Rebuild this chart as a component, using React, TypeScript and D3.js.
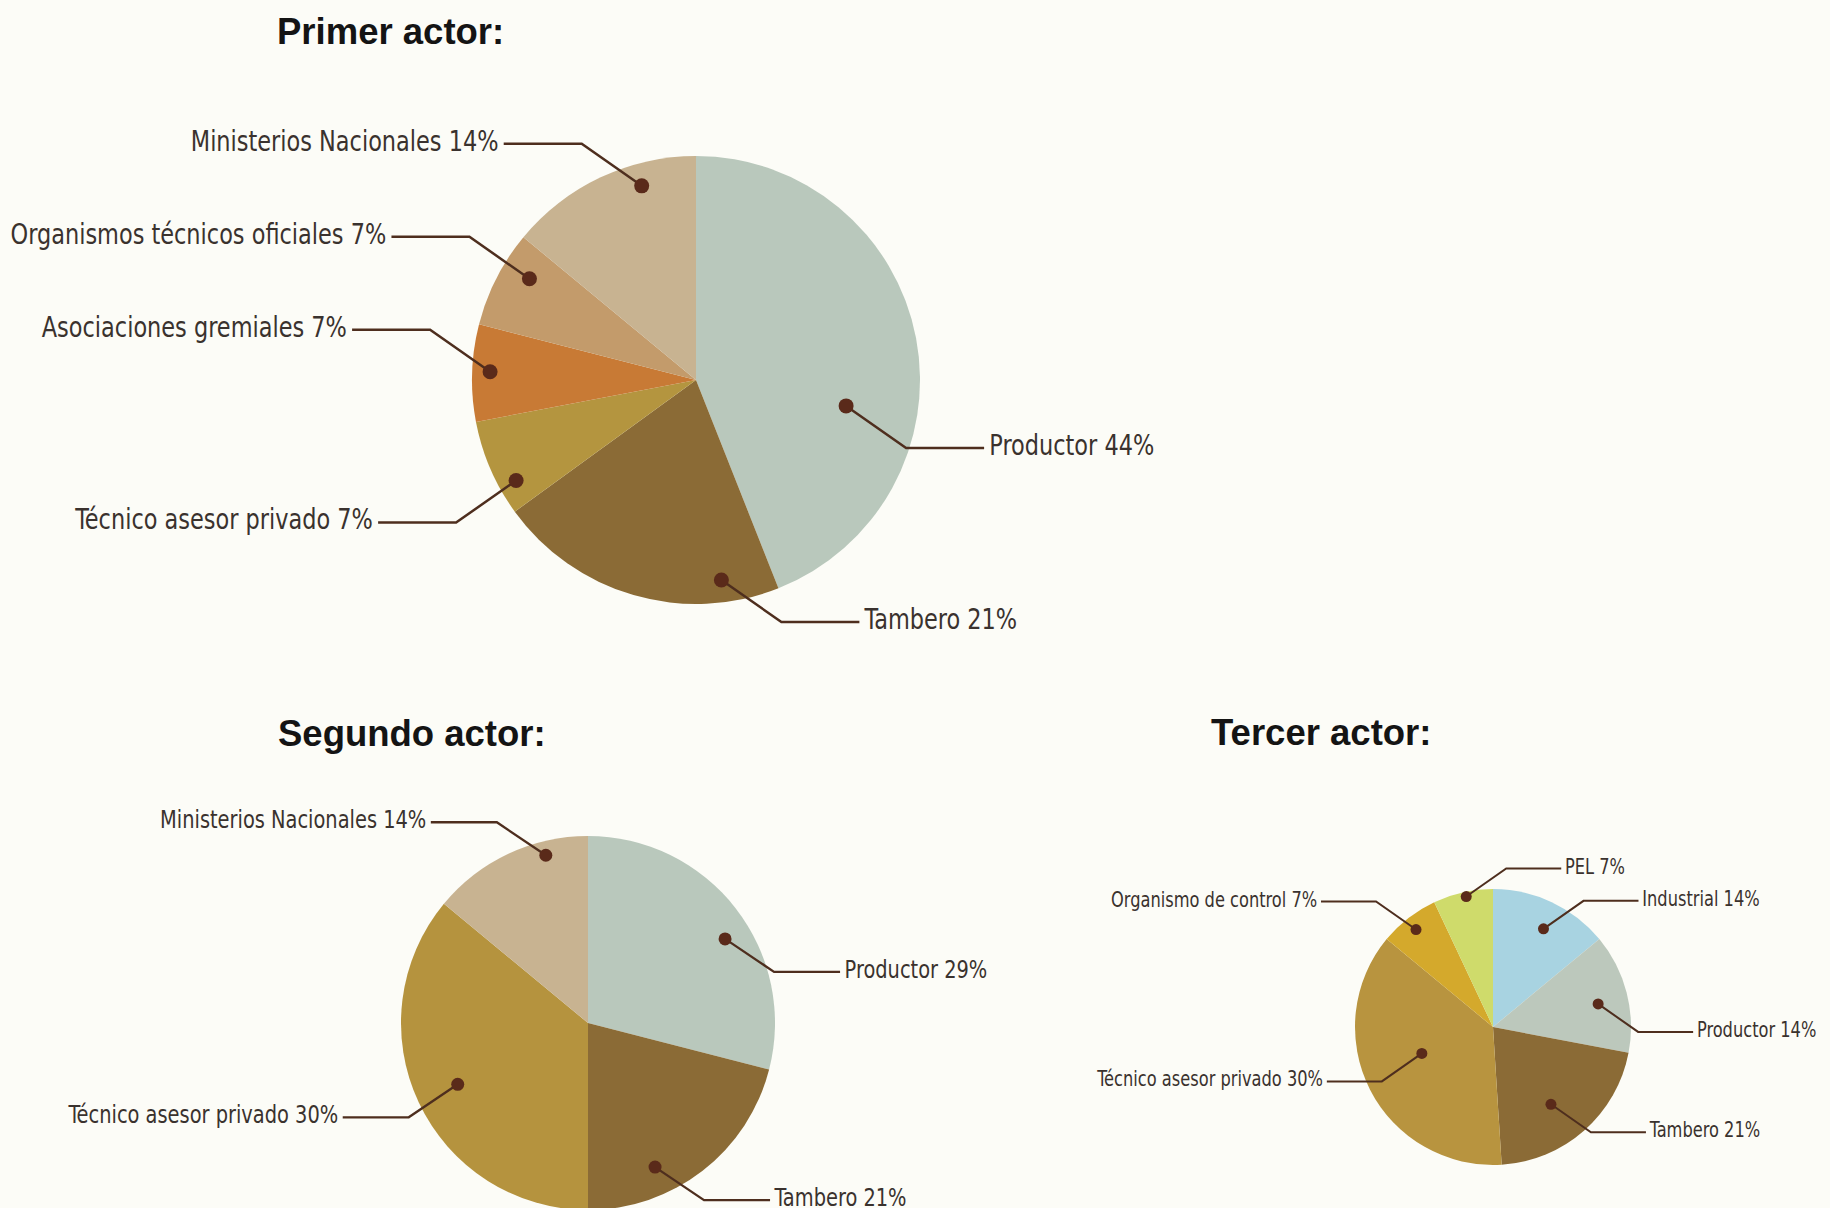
import React from 'react';
import * as d3 from 'd3';

// --- data ---
const primerLabels = [
  'Productor 44%',
  'Tambero 21%',
  'Técnico asesor privado 7%',
  'Asociaciones gremiales 7%',
  'Organismos técnicos oficiales 7%',
  'Ministerios Nacionales 14%',
];
const primerValues = [44, 21, 7, 7, 7, 14];

const segundoLabels = [
  'Productor 29%',
  'Tambero 21%',
  'Técnico asesor privado 30%',
  'Ministerios Nacionales 14%',
];
// slice sizes as drawn (the "30%" slice fills the rest of the circle)
const segundoValues = [29, 21, 36, 14];

const tercerLabels = [
  'Industrial 14%',
  'Productor 14%',
  'Tambero 21%',
  'Técnico asesor privado 30%',
  'Organismo de control 7%',
  'PEL 7%',
];
const tercerValues = [14, 14, 21, 37, 7, 7];

// --- styling ---
const primerColors = ['#b9c8bc', '#8b6b36', '#b4953f', '#c87a35', '#c39b6b', '#c8b391'];
const segundoColors = ['#b9c8bc', '#8b6b36', '#b5933e', '#c8b391'];
const tercerColors = ['#a8d3e1', '#bcc8bc', '#8b6b36', '#b8943f', '#d4a92c', '#cfdb6b'];

// callout placement: t = position along the slice angle, r = fraction of radius, dir = leader direction
type Callout = { t: number; r: number; dir: 'ne' | 'nw' | 'se' | 'sw' };
const primerCallouts: Callout[] = [
  { t: 0.63, r: 0.68, dir: 'se' },
  { t: 0.19, r: 0.9, dir: 'se' },
  { t: 0.27, r: 0.92, dir: 'sw' },
  { t: 0.52, r: 0.92, dir: 'nw' },
  { t: 0.67, r: 0.87, dir: 'nw' },
  { t: 0.69, r: 0.9, dir: 'nw' },
];
const segundoCallouts: Callout[] = [
  { t: 0.56, r: 0.86, dir: 'se' },
  { t: 0.67, r: 0.85, dir: 'se' },
  { t: 0.5, r: 0.77, dir: 'sw' },
  { t: 0.72, r: 0.925, dir: 'nw' },
];
const tercerCallouts: Callout[] = [
  { t: 0.54, r: 0.8, dir: 'ne' },
  { t: 0.54, r: 0.78, dir: 'se' },
  { t: 0.56, r: 0.7, dir: 'se' },
  { t: 0.55, r: 0.55, dir: 'sw' },
  { t: 0.48, r: 0.9, dir: 'nw' },
  { t: 0.54, r: 0.965, dir: 'ne' },
];

const W = 1830;
const H = 1208;
const LABEL_FONT = '"DejaVu Sans Condensed", "DejaVu Sans", sans-serif';
const CONDENSE = 0.86; // labels in the reference use a condensed face
const TITLE_FONT = '"Liberation Sans", Arial, sans-serif';
const TEXT_COLOR = '#3a322e';
const LINE_COLOR = '#4e2e1e';
const DOT_COLOR = '#5a2a1a';

interface PieProps {
  title: string;
  titleX: number;
  titleY: number;
  labels: string[];
  values: number[];
  colors: string[];
  callouts: Callout[];
  cx: number;
  cy: number;
  radius: number;
  fontSize: number;
  leadDx: number;
  leadDy: number;
  leadH: number;
  dotR: number;
  lineW: number;
}

function ActorPie(p: PieProps) {
  const pie = d3.pie<number>().sort(null).value(d => d).startAngle(0).endAngle(2 * Math.PI);
  const arcs = pie(p.values);
  const arc = d3.arc<d3.PieArcDatum<number>>().innerRadius(0).outerRadius(p.radius);

  return (
    <g>
      <text x={p.titleX} y={p.titleY} fontFamily={TITLE_FONT} fontWeight="bold" fontSize={36.5} fill="#141414">
        {p.title}
      </text>
      <g transform={`translate(${p.cx},${p.cy})`}>
        {arcs.map((a, i) => (
          <path key={i} d={arc(a) || ''} fill={p.colors[i]} />
        ))}
        {arcs.map((a, i) => {
          const c = p.callouts[i];
          const ang = a.startAngle + c.t * (a.endAngle - a.startAngle);
          const rr = c.r * p.radius;
          const x0 = rr * Math.sin(ang);
          const y0 = -rr * Math.cos(ang);
          const sx = c.dir.endsWith('e') ? 1 : -1;
          const sy = c.dir.startsWith('s') ? 1 : -1;
          const x1 = x0 + sx * p.leadDx;
          const y1 = y0 + sy * p.leadDy;
          const x2 = x1 + sx * p.leadH;
          const tx = x2 + sx * p.fontSize * 0.18;
          const ty = y1 + p.fontSize * 0.24;
          return (
            <g key={'c' + i}>
              <polyline
                points={`${x0},${y0} ${x1},${y1} ${x2},${y1}`}
                fill="none"
                stroke={LINE_COLOR}
                strokeWidth={p.lineW}
              />
              <circle cx={x0} cy={y0} r={p.dotR} fill={DOT_COLOR} />
              <text
                transform={`translate(${tx},${ty}) scale(${CONDENSE},1)`}
                textAnchor={sx > 0 ? 'start' : 'end'}
                fontFamily={LABEL_FONT}
                fontSize={p.fontSize}
                fill={TEXT_COLOR}
              >
                {p.labels[i]}
              </text>
            </g>
          );
        })}
      </g>
    </g>
  );
}

export default function App() {
  return (
    <svg
      width={W}
      height={H}
      viewBox={`0 0 ${W} ${H}`}
      style={{ position: 'absolute', left: 0, top: 0, display: 'block' }}
    >
      <rect width={W} height={H} fill="#fcfcf7" />
      <ActorPie
        title="Primer actor:"
        titleX={277}
        titleY={44}
        labels={primerLabels}
        values={primerValues}
        colors={primerColors}
        callouts={primerCallouts}
        cx={696}
        cy={380}
        radius={224}
        fontSize={29}
        leadDx={60}
        leadDy={42}
        leadH={78}
        dotR={7.5}
        lineW={2.5}
      />
      <ActorPie
        title="Segundo actor:"
        titleX={278}
        titleY={746}
        labels={segundoLabels}
        values={segundoValues}
        colors={segundoColors}
        callouts={segundoCallouts}
        cx={588}
        cy={1023}
        radius={187}
        fontSize={25.1}
        leadDx={49}
        leadDy={33}
        leadH={66}
        dotR={6.5}
        lineW={2.3}
      />
      <ActorPie
        title="Tercer actor:"
        titleX={1211}
        titleY={745}
        labels={tercerLabels}
        values={tercerValues}
        colors={tercerColors}
        callouts={tercerCallouts}
        cx={1493}
        cy={1027}
        radius={138}
        fontSize={21}
        leadDx={40}
        leadDy={28}
        leadH={55}
        dotR={5.5}
        lineW={2}
      />
    </svg>
  );
}
